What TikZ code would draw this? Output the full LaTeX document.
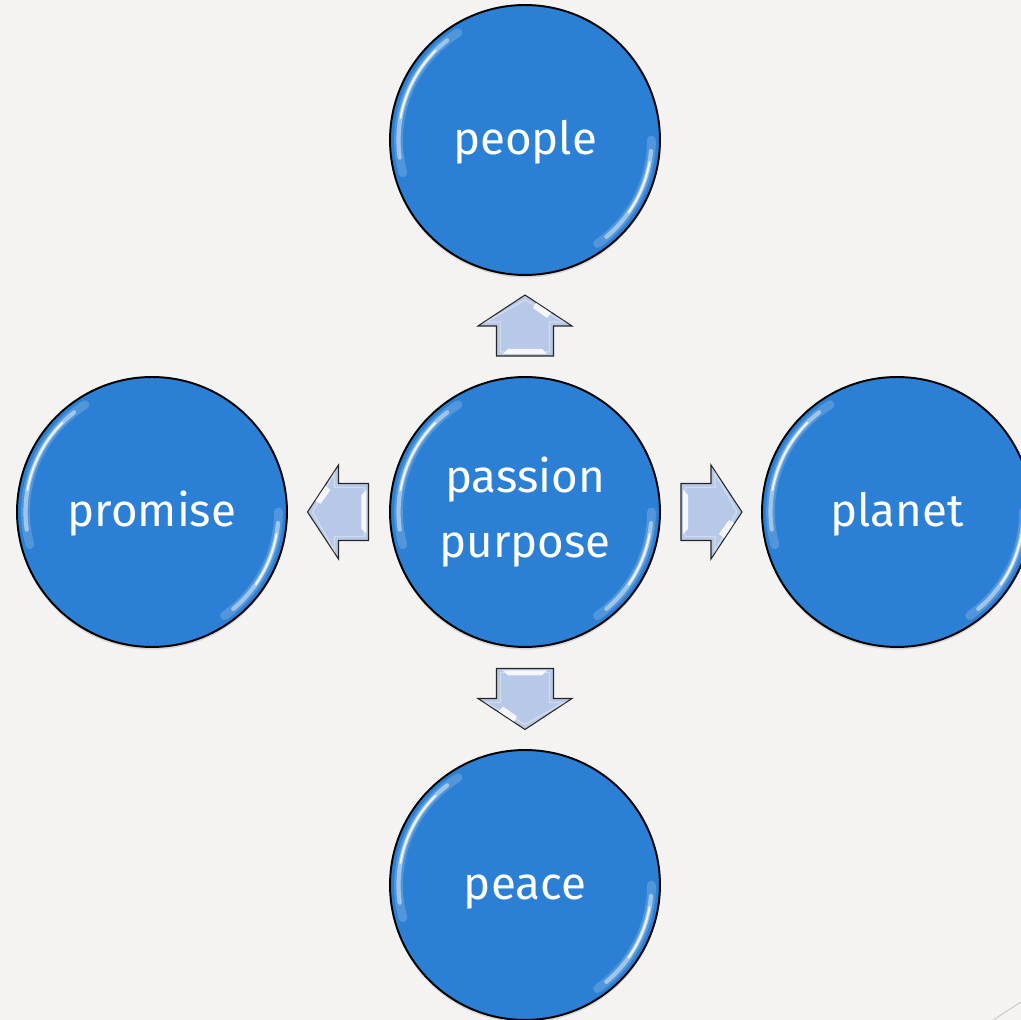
\documentclass[tikz,border=0pt]{standalone}
\usepackage{fontspec}
\setmainfont{Fira Sans}
\usetikzlibrary{calc,shadows}

\definecolor{bubblefill}{HTML}{2B7FD4}
\definecolor{arrowfill}{HTML}{B8C8E8}
\definecolor{bgcolor}{HTML}{F4F3F1}

\tikzset{
bubble/.style={circle,draw=black,line width=1.1pt,fill=bubblefill,minimum size=5.4cm,inner sep=0pt,
  text=white,align=center,font=\fontsize{26}{37.5}\selectfont,
  drop shadow={shadow xshift=0pt,shadow yshift=-1.5pt,opacity=0.25}},
oneline/.style={text height=0.6cm,text depth=0pt},
glow/.style={white,line width=5pt,opacity=0.18,line cap=round},
glint/.style={white,line width=2.4pt,opacity=0.45,line cap=round},
spark/.style={white,line width=1.1pt,opacity=0.85,line cap=round},
arrowline/.style={draw=black!85,line width=0.6pt,fill=arrowfill,line join=miter},
bevel/.style={white,opacity=0.85},
blockarr/.pic={
  \draw[arrowline] (-30,-28.5) -- (0,-28.5) -- (0,-47) -- (31,0) -- (0,47) -- (0,28.5) -- (-30,28.5) -- cycle;
  \draw[white,opacity=0.35,line width=0.8pt] (-26,-24.5) -- (4,-24.5) -- (4,-39) -- (26,0) -- (4,39) -- (4,24.5) -- (-26,24.5) -- cycle;
  \fill[bevel] (-28,-22) -- (-23,-17) -- (-23,17) -- (-28,22) -- cycle;
  \fill[bevel] (13,-26) -- (23,-11) -- (18,-8) -- (8,-22) -- cycle;
}
}

\newcommand\glossy[1]{%
\draw[glow] ([shift={(122:2.53cm)}]#1.center) arc (122:195:2.53cm);
\draw[glint] ([shift={(128:2.53cm)}]#1.center) arc (128:188:2.53cm);
\draw[spark] ([shift={(135:2.53cm)}]#1.center) arc (135:170:2.53cm);
\draw[glow] ([shift={(305:2.53cm)}]#1.center) arc (305:360:2.53cm);
\draw[glint] ([shift={(310:2.53cm)}]#1.center) arc (310:355:2.53cm);
\draw[spark] ([shift={(325:2.53cm)}]#1.center) arc (325:350:2.53cm);
}

\begin{document}
\begin{tikzpicture}[x=0.02cm,y=0.02cm]
\fill[bgcolor] (-525,-508) rectangle (496,512);
\useasboundingbox (-525,-508) rectangle (496,512);

\node[bubble] (passion) at (0,0) {passion\\purpose};
\node[bubble,oneline] (people) at (0,372) {people};
\node[bubble,oneline] (promise) at (-373,0) {promise};
\node[bubble,oneline] (planet) at (372,0) {planet};
\node[bubble,oneline] (peace) at (0,-373) {peace};

\glossy{passion}
\glossy{people}
\glossy{promise}
\glossy{planet}
\glossy{peace}

% arrows half way between the circles
\coordinate (mup) at ($(passion)!0.5!(people)$);
\coordinate (mleft) at ($(passion)!0.5!(promise)$);
\coordinate (mright) at ($(passion)!0.5!(planet)$);
\coordinate (mdown) at ($(passion)!0.5!(peace)$);

\pic[rotate=90] at (mup) {blockarr};
\pic[rotate=180] at (mleft) {blockarr};
\pic at (mright) {blockarr};
\pic[rotate=-90] at (mdown) {blockarr};

\draw[gray!45,line width=0.5pt] (468,-508) -- (496,-490); %corner
\end{tikzpicture}
\end{document}
